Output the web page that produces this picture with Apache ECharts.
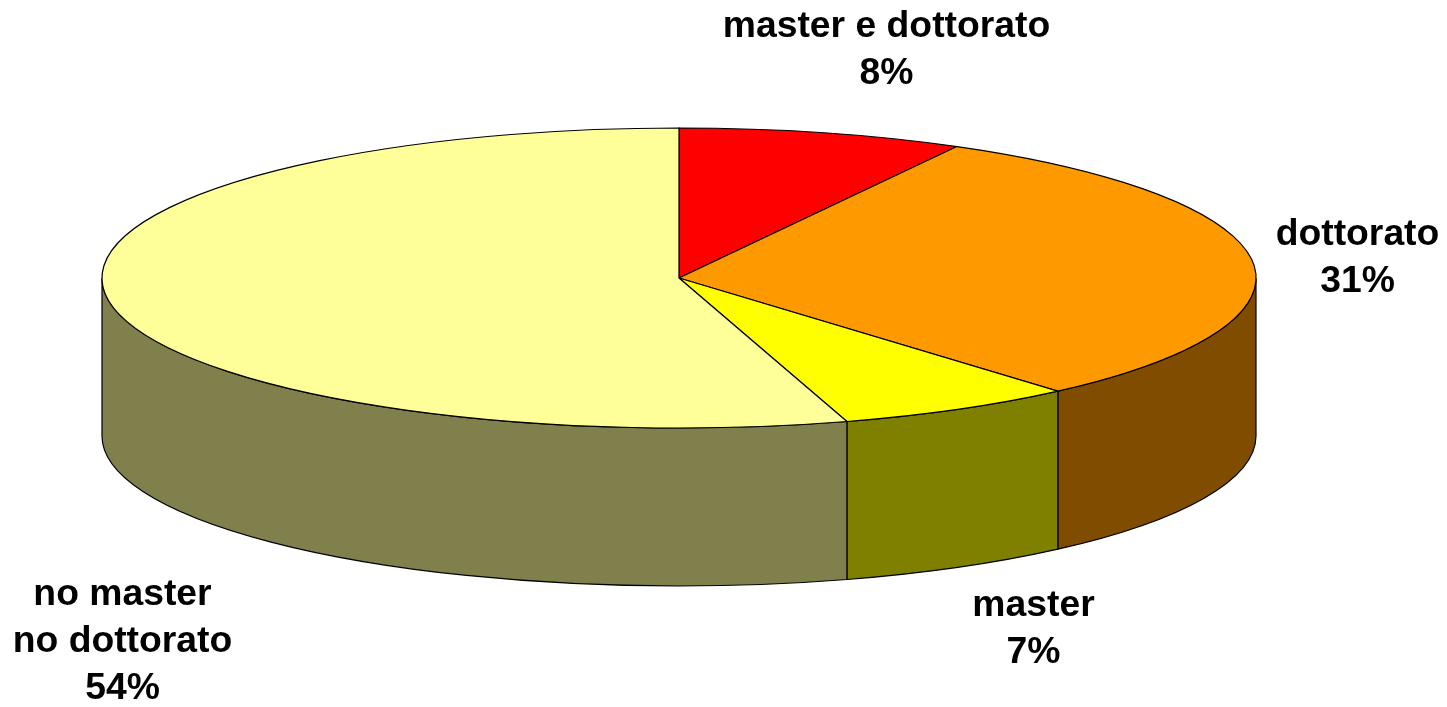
<!DOCTYPE html>
<html>
<head>
<meta charset="utf-8">
<style>
  html, body { margin: 0; padding: 0; background: #fff; }
  #chart { width: 1447px; height: 707px; }
</style>
<script src="https://cdn.jsdelivr.net/npm/echarts@6/dist/echarts.min.js"></script>
</head>
<body>
<div id="chart"></div>
<script>
// slices clockwise from 12 o'clock
const categories = ["master e dottorato", "dottorato", "master", "no master\nno dottorato"];
const shares = [8.0, 30.6, 6.7, 54.7];
// printed labels, as they read on the picture
const percentLabels = ["8%", "31%", "7%", "54%"];
const topColors = ["#FF0000", "#FF9900", "#FFFF00", "#FFFF99"];
const sideColors = ["#800000", "#804C00", "#808000", "#80804D"];

// ellipse of the top face + height of the wall
const cx = 679, cy = 278, rx = 577, ry = 150, depth = 158;
// label centres, one per slice
const labelAt = [[886.5, 50.5], [1357.5, 258], [1033.5, 629], [122.5, 642]];

const total = shares.reduce((a, b) => a + b, 0);
const point = (a, dy) => [cx + rx * Math.sin(a), cy - ry * Math.cos(a) + (dy || 0)];

function renderSlice(params, api) {
  const i = params.dataIndex;
  let before = 0;
  for (let k = 0; k < i; k++) before += shares[k];
  const a0 = before / total * Math.PI * 2;
  const a1 = (before + api.value(0)) / total * Math.PI * 2;
  const children = [];

  // wall only shows on the front half
  const s0 = Math.max(a0, Math.PI / 2);
  const s1 = Math.min(a1, Math.PI * 1.5);
  if (s1 > s0) {
    const p0 = point(s0), p1 = point(s1), q1 = point(s1, depth), q0 = point(s0, depth);
    children.push({
      type: "path",
      z2: 1,
      shape: {
        pathData: `M${p0} A${rx} ${ry} 0 0 1 ${p1} L${q1} A${rx} ${ry} 0 0 0 ${q0} Z`
      },
      style: { fill: sideColors[i], stroke: "#000", lineWidth: 1.2 }
    });
  }

  const t0 = point(a0), t1 = point(a1);
  const large = a1 - a0 > Math.PI ? 1 : 0;
  children.push({
    type: "path",
    z2: 2,
    shape: {
      pathData: `M${cx} ${cy} L${t0} A${rx} ${ry} 0 ${large} 1 ${t1} Z`
    },
    style: { fill: topColors[i], stroke: "#000", lineWidth: 1.2 }
  });

  children.push({
    type: "text",
    z2: 3,
    style: {
      x: labelAt[i][0],
      y: labelAt[i][1],
      text: categories[i] + "\n" + percentLabels[i],
      fill: "#000",
      font: "bold 37.3px 'Liberation Sans', Arial, sans-serif",
      lineHeight: 47,
      align: "center",
      verticalAlign: "middle"
    }
  });
  return { type: "group", children };
}

const chart = echarts.init(document.getElementById("chart"), null, { renderer: "canvas" });
chart.setOption({
  animation: false,
  backgroundColor: "#fff",
  series: [
    {
      type: "custom",
      coordinateSystem: "none",
      renderItem: renderSlice,
      data: shares.map((v) => [v])
    }
  ]
});
</script>
</body>
</html>
